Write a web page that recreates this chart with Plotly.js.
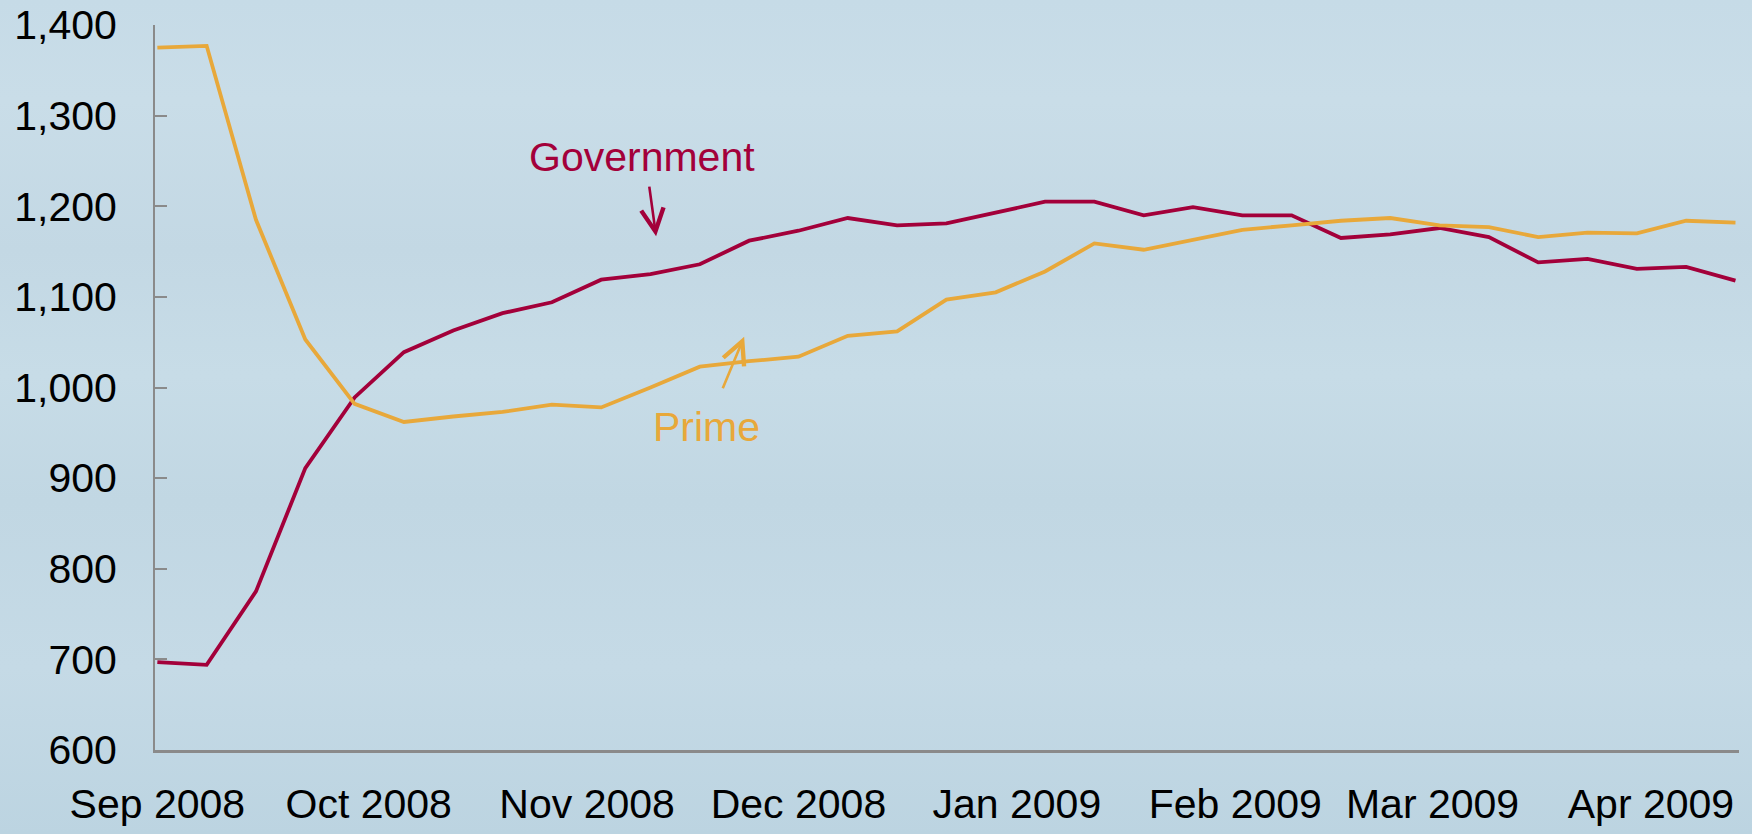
<!DOCTYPE html>
<html>
<head>
<meta charset="utf-8">
<script src="https://cdn.plot.ly/plotly-3.0.1.min.js"></script>
<style>
  html, body { margin: 0; padding: 0; width: 1752px; height: 834px; overflow: hidden;
    background: linear-gradient(180deg, #c6dbe7 0%, #c9dde8 12%, #c3d8e4 30%, #c7dce7 45%, #c1d7e3 60%, #c5dae6 80%, #bcd4e1 100%); }
  #chart { width: 1752px; height: 834px; }
</style>
</head>
<body>
<div id="chart"></div>
<script>
// Weekly observations (dates) and series values
const weeks = [
  '2008-09-01','2008-09-08','2008-09-15','2008-09-22','2008-09-29',
  '2008-10-06','2008-10-13','2008-10-20','2008-10-27',
  '2008-11-03','2008-11-10','2008-11-17','2008-11-24',
  '2008-12-01','2008-12-08','2008-12-15','2008-12-22','2008-12-29',
  '2009-01-05','2009-01-12','2009-01-19','2009-01-26',
  '2009-02-02','2009-02-09','2009-02-16','2009-02-23',
  '2009-03-02','2009-03-09','2009-03-16','2009-03-23','2009-03-30',
  '2009-04-06','2009-04-13'
];
const government = [697, 694, 775, 911, 989, 1039, 1063, 1082, 1094, 1119, 1125, 1136, 1162,
  1173, 1187, 1179, 1181, 1193, 1205, 1205, 1190, 1199, 1190, 1190, 1165, 1169, 1176, 1166,
  1138, 1142, 1131, 1133, 1118];
const prime = [1375, 1377, 1185, 1053, 982, 962, 968, 973, 981, 978, 1000, 1023, 1029,
  1034, 1057, 1062, 1097, 1105, 1128, 1159, 1152, 1163, 1174, 1179, 1184, 1187, 1179, 1177,
  1166, 1171, 1170, 1184, 1182];
const monthTicks = ['2008-09-01','2008-10-01','2008-11-01','2008-12-01','2009-01-01','2009-02-01','2009-03-01','2009-04-01'];
const monthLabels = ['Sep 2008','Oct 2008','Nov 2008','Dec 2008','Jan 2009','Feb 2009','Mar 2009','Apr 2009'];
const seriesNames = ['Government', 'Prime'];

const govColor = '#a3003a';
const primeColor = '#e8a83a';
const FONT = 'Liberation Sans, Arial, sans-serif';

const traces = [
  { x: weeks, y: government, type: 'scatter', mode: 'lines', name: seriesNames[0],
    line: { color: govColor, width: 3.8 } },
  { x: weeks, y: prime, type: 'scatter', mode: 'lines', name: seriesNames[1],
    line: { color: primeColor, width: 3.8 } }
];

const layout = {
  width: 1752, height: 834,
  paper_bgcolor: 'rgba(0,0,0,0)', plot_bgcolor: 'rgba(0,0,0,0)',
  margin: { l: 155, r: 13, t: 25, b: 84 },
  showlegend: false,
  font: { family: FONT, size: 41, color: '#000' },
  xaxis: {
    type: 'date',
    range: ['2008-08-31 16:00', '2009-04-13 12:00'],
    tickvals: monthTicks, ticktext: monthLabels,
    ticks: '', showgrid: false, zeroline: false,
    showline: true, linecolor: '#8a8a8a', linewidth: 3,
    tickfont: { family: FONT, size: 41, color: '#000' },
    ticklabelstandoff: 16
  },
  yaxis: {
    range: [600, 1400], dtick: 100, tick0: 600, tickformat: ',d',
    ticks: 'inside', ticklen: 12, tickwidth: 2, tickcolor: '#8a8a8a',
    showgrid: false, zeroline: false,
    showline: true, linecolor: '#8a8a8a', linewidth: 2,
    tickfont: { family: FONT, size: 41, color: '#000' },
    ticklabelstandoff: 28
  },
  annotations: [
    { x: '2008-11-08 19:00', y: 1254, xref: 'x', yref: 'y', text: seriesNames[0],
      showarrow: false, font: { family: FONT, size: 41, color: govColor } },
    { x: '2008-11-10 19:00', y: 1167, xref: 'x', yref: 'y', text: '',
      showarrow: true, ax: -7, ay: -51, arrowhead: 5, arrowsize: 1.7, arrowwidth: 2.6,
      arrowcolor: govColor, standoff: 0, startstandoff: 0 },
    { x: '2008-11-17 22:00', y: 956, xref: 'x', yref: 'y', text: seriesNames[1],
      showarrow: false, font: { family: FONT, size: 41, color: primeColor } },
    { x: '2008-11-23 07:00', y: 1056, xref: 'x', yref: 'y', text: '',
      showarrow: true, ax: -22, ay: 53, arrowhead: 5, arrowsize: 1.7, arrowwidth: 2.6,
      arrowcolor: primeColor, standoff: 0, startstandoff: 0 }
  ]
};

Plotly.newPlot('chart', traces, layout, { staticPlot: true, displayModeBar: false });
</script>
</body>
</html>
